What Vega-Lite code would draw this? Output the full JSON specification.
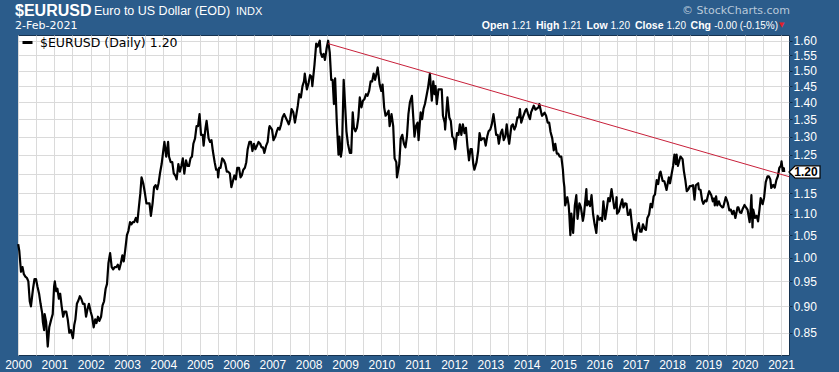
{
  "$schema": "https://vega.github.io/schema/vega-lite/v6.json",
  "width": 771,
  "height": 320,
  "autosize": {"type": "none"},
  "padding": {"left": 18, "top": 35, "right": 50, "bottom": 17},
  "background": "#2b5c8b",
  "title": {
    "text": "$EURUSD",
    "subtitle": "2-Feb-2021",
    "anchor": "start",
    "frame": "group",
    "dx": -3,
    "dy": 30,
    "offset": 4,
    "color": "white",
    "font": "Liberation Sans",
    "fontSize": 16,
    "fontWeight": "bold",
    "subtitleColor": "white",
    "subtitleFont": "DejaVu Sans",
    "subtitleFontSize": 11,
    "subtitlePadding": 1
  },
  "config": {
    "view": {"fill": "white", "stroke": "#16324f", "strokeWidth": 1},
    "font": "Liberation Sans"
  },
  "layer": [
    {
      "data": {"values": [
        {"date":"2000-01-03","price":1.030},{"date":"2000-01-14","price":1.015},{"date":"2000-01-31","price":0.970},{"date":"2000-02-15","price":0.980},{"date":"2000-02-29","price":0.965},{"date":"2000-03-15","price":0.960},{"date":"2000-03-31","price":0.957},{"date":"2000-04-14","price":0.950},{"date":"2000-04-28","price":0.910},{"date":"2000-05-10","price":0.900},{"date":"2000-05-31","price":0.935},{"date":"2000-06-15","price":0.955},{"date":"2000-06-30","price":0.955},{"date":"2000-07-14","price":0.940},{"date":"2000-07-31","price":0.925},{"date":"2000-08-15","price":0.905},{"date":"2000-08-31","price":0.887},{"date":"2000-09-07","price":0.870},{"date":"2000-09-20","price":0.855},{"date":"2000-09-25","price":0.885},{"date":"2000-10-10","price":0.870},{"date":"2000-10-26","price":0.825},{"date":"2000-11-10","price":0.860},{"date":"2000-11-30","price":0.875},{"date":"2000-12-15","price":0.885},{"date":"2000-12-29","price":0.940},
        {"date":"2001-01-05","price":0.950},{"date":"2001-01-19","price":0.930},{"date":"2001-01-31","price":0.935},{"date":"2001-02-15","price":0.915},{"date":"2001-02-28","price":0.925},{"date":"2001-03-15","price":0.900},{"date":"2001-03-30","price":0.880},{"date":"2001-04-13","price":0.890},{"date":"2001-04-30","price":0.890},{"date":"2001-05-15","price":0.875},{"date":"2001-05-31","price":0.850},{"date":"2001-06-15","price":0.855},{"date":"2001-07-06","price":0.840},{"date":"2001-07-20","price":0.865},{"date":"2001-07-31","price":0.875},{"date":"2001-08-15","price":0.905},{"date":"2001-08-31","price":0.912},{"date":"2001-09-14","price":0.920},{"date":"2001-09-28","price":0.915},{"date":"2001-10-15","price":0.905},{"date":"2001-10-31","price":0.905},{"date":"2001-11-15","price":0.880},{"date":"2001-11-30","price":0.895},{"date":"2001-12-14","price":0.905},{"date":"2001-12-31","price":0.890},
        {"date":"2002-01-15","price":0.880},{"date":"2002-01-31","price":0.860},{"date":"2002-02-15","price":0.875},{"date":"2002-02-28","price":0.868},{"date":"2002-03-15","price":0.880},{"date":"2002-03-29","price":0.872},{"date":"2002-04-15","price":0.880},{"date":"2002-04-30","price":0.902},{"date":"2002-05-15","price":0.910},{"date":"2002-05-31","price":0.935},{"date":"2002-06-14","price":0.945},{"date":"2002-06-28","price":0.988},{"date":"2002-07-15","price":1.010},{"date":"2002-07-31","price":0.980},{"date":"2002-08-15","price":0.975},{"date":"2002-08-30","price":0.980},{"date":"2002-09-16","price":0.980},{"date":"2002-09-30","price":0.985},{"date":"2002-10-15","price":0.975},{"date":"2002-10-31","price":0.988},{"date":"2002-11-15","price":1.005},{"date":"2002-11-29","price":0.992},{"date":"2002-12-13","price":1.015},{"date":"2002-12-31","price":1.050},
        {"date":"2003-01-15","price":1.060},{"date":"2003-01-31","price":1.080},{"date":"2003-02-14","price":1.075},{"date":"2003-02-28","price":1.080},{"date":"2003-03-14","price":1.080},{"date":"2003-03-31","price":1.090},{"date":"2003-04-15","price":1.080},{"date":"2003-04-30","price":1.115},{"date":"2003-05-15","price":1.150},{"date":"2003-05-27","price":1.190},{"date":"2003-06-13","price":1.175},{"date":"2003-06-30","price":1.150},{"date":"2003-07-15","price":1.125},{"date":"2003-07-31","price":1.125},{"date":"2003-08-15","price":1.125},{"date":"2003-08-29","price":1.095},{"date":"2003-09-15","price":1.125},{"date":"2003-09-30","price":1.165},{"date":"2003-10-15","price":1.170},{"date":"2003-10-31","price":1.160},{"date":"2003-11-14","price":1.175},{"date":"2003-11-28","price":1.200},{"date":"2003-12-15","price":1.225},{"date":"2003-12-31","price":1.260},
        {"date":"2004-01-12","price":1.285},{"date":"2004-01-30","price":1.245},{"date":"2004-02-18","price":1.285},{"date":"2004-02-27","price":1.245},{"date":"2004-03-15","price":1.230},{"date":"2004-03-31","price":1.230},{"date":"2004-04-15","price":1.200},{"date":"2004-04-30","price":1.195},{"date":"2004-05-14","price":1.185},{"date":"2004-05-31","price":1.225},{"date":"2004-06-15","price":1.205},{"date":"2004-06-30","price":1.220},{"date":"2004-07-15","price":1.240},{"date":"2004-07-30","price":1.200},{"date":"2004-08-16","price":1.235},{"date":"2004-08-31","price":1.220},{"date":"2004-09-15","price":1.220},{"date":"2004-09-30","price":1.240},{"date":"2004-10-15","price":1.245},{"date":"2004-10-29","price":1.280},{"date":"2004-11-15","price":1.295},{"date":"2004-11-30","price":1.330},{"date":"2004-12-15","price":1.330},{"date":"2004-12-30","price":1.365},
        {"date":"2005-01-14","price":1.305},{"date":"2005-01-31","price":1.305},{"date":"2005-02-09","price":1.275},{"date":"2005-02-28","price":1.325},{"date":"2005-03-11","price":1.345},{"date":"2005-03-31","price":1.295},{"date":"2005-04-15","price":1.285},{"date":"2005-04-29","price":1.290},{"date":"2005-05-13","price":1.260},{"date":"2005-05-31","price":1.230},{"date":"2005-06-15","price":1.210},{"date":"2005-06-30","price":1.210},{"date":"2005-07-05","price":1.190},{"date":"2005-07-15","price":1.215},{"date":"2005-07-29","price":1.215},{"date":"2005-08-15","price":1.240},{"date":"2005-08-31","price":1.235},{"date":"2005-09-15","price":1.225},{"date":"2005-09-30","price":1.205},{"date":"2005-10-14","price":1.205},{"date":"2005-10-31","price":1.200},{"date":"2005-11-15","price":1.165},{"date":"2005-11-30","price":1.180},{"date":"2005-12-15","price":1.195},{"date":"2005-12-30","price":1.185},
        {"date":"2006-01-13","price":1.215},{"date":"2006-01-31","price":1.215},{"date":"2006-02-15","price":1.190},{"date":"2006-02-28","price":1.195},{"date":"2006-03-15","price":1.210},{"date":"2006-03-31","price":1.215},{"date":"2006-04-14","price":1.230},{"date":"2006-04-28","price":1.265},{"date":"2006-05-15","price":1.285},{"date":"2006-05-31","price":1.285},{"date":"2006-06-15","price":1.260},{"date":"2006-06-30","price":1.280},{"date":"2006-07-14","price":1.265},{"date":"2006-07-31","price":1.275},{"date":"2006-08-15","price":1.285},{"date":"2006-08-31","price":1.280},{"date":"2006-09-15","price":1.270},{"date":"2006-09-29","price":1.270},{"date":"2006-10-13","price":1.255},{"date":"2006-10-31","price":1.275},{"date":"2006-11-15","price":1.285},{"date":"2006-11-30","price":1.325},{"date":"2006-12-05","price":1.330},{"date":"2006-12-29","price":1.320},
        {"date":"2007-01-12","price":1.290},{"date":"2007-01-31","price":1.300},{"date":"2007-02-15","price":1.315},{"date":"2007-02-28","price":1.325},{"date":"2007-03-15","price":1.320},{"date":"2007-03-30","price":1.335},{"date":"2007-04-13","price":1.355},{"date":"2007-04-30","price":1.365},{"date":"2007-05-15","price":1.355},{"date":"2007-05-31","price":1.345},{"date":"2007-06-15","price":1.335},{"date":"2007-06-29","price":1.350},{"date":"2007-07-13","price":1.380},{"date":"2007-07-31","price":1.370},{"date":"2007-08-16","price":1.340},{"date":"2007-08-31","price":1.365},{"date":"2007-09-14","price":1.390},{"date":"2007-09-28","price":1.425},{"date":"2007-10-15","price":1.415},{"date":"2007-10-31","price":1.450},{"date":"2007-11-15","price":1.465},{"date":"2007-11-23","price":1.490},{"date":"2007-12-14","price":1.440},{"date":"2007-12-31","price":1.460},
        {"date":"2008-01-15","price":1.485},{"date":"2008-01-31","price":1.480},{"date":"2008-02-07","price":1.450},{"date":"2008-02-29","price":1.520},{"date":"2008-03-17","price":1.590},{"date":"2008-03-31","price":1.580},{"date":"2008-04-22","price":1.600},{"date":"2008-04-30","price":1.560},{"date":"2008-05-15","price":1.545},{"date":"2008-05-30","price":1.555},{"date":"2008-06-13","price":1.535},{"date":"2008-06-30","price":1.575},{"date":"2008-07-15","price":1.600},{"date":"2008-07-31","price":1.560},{"date":"2008-08-15","price":1.470},{"date":"2008-08-29","price":1.470},{"date":"2008-09-11","price":1.395},{"date":"2008-09-23","price":1.475},{"date":"2008-10-10","price":1.340},{"date":"2008-10-27","price":1.250},{"date":"2008-11-05","price":1.300},{"date":"2008-11-20","price":1.245},{"date":"2008-12-01","price":1.265},{"date":"2008-12-18","price":1.470},{"date":"2008-12-31","price":1.400},
        {"date":"2009-01-15","price":1.315},{"date":"2009-01-30","price":1.280},{"date":"2009-02-18","price":1.255},{"date":"2009-03-04","price":1.255},{"date":"2009-03-19","price":1.370},{"date":"2009-03-31","price":1.325},{"date":"2009-04-15","price":1.315},{"date":"2009-04-30","price":1.325},{"date":"2009-05-15","price":1.355},{"date":"2009-05-29","price":1.415},{"date":"2009-06-15","price":1.385},{"date":"2009-06-30","price":1.405},{"date":"2009-07-15","price":1.410},{"date":"2009-07-31","price":1.425},{"date":"2009-08-14","price":1.420},{"date":"2009-08-31","price":1.435},{"date":"2009-09-15","price":1.465},{"date":"2009-09-30","price":1.465},{"date":"2009-10-15","price":1.490},{"date":"2009-10-30","price":1.470},{"date":"2009-11-13","price":1.490},{"date":"2009-11-25","price":1.510},{"date":"2009-12-15","price":1.455},{"date":"2009-12-31","price":1.435},
        {"date":"2010-01-13","price":1.455},{"date":"2010-01-29","price":1.385},{"date":"2010-02-12","price":1.360},{"date":"2010-02-26","price":1.365},{"date":"2010-03-15","price":1.375},{"date":"2010-03-25","price":1.330},{"date":"2010-04-13","price":1.365},{"date":"2010-04-30","price":1.330},{"date":"2010-05-14","price":1.240},{"date":"2010-05-31","price":1.230},{"date":"2010-06-07","price":1.190},{"date":"2010-06-30","price":1.225},{"date":"2010-07-15","price":1.295},{"date":"2010-07-30","price":1.305},{"date":"2010-08-16","price":1.280},{"date":"2010-08-31","price":1.270},{"date":"2010-09-15","price":1.300},{"date":"2010-09-30","price":1.365},{"date":"2010-10-15","price":1.400},{"date":"2010-11-04","price":1.420},{"date":"2010-11-30","price":1.300},{"date":"2010-12-15","price":1.330},{"date":"2010-12-31","price":1.340},
        {"date":"2011-01-10","price":1.290},{"date":"2011-01-31","price":1.370},{"date":"2011-02-15","price":1.350},{"date":"2011-02-28","price":1.380},{"date":"2011-03-15","price":1.395},{"date":"2011-03-31","price":1.420},{"date":"2011-04-15","price":1.445},{"date":"2011-05-04","price":1.490},{"date":"2011-05-23","price":1.405},{"date":"2011-06-07","price":1.465},{"date":"2011-06-20","price":1.425},{"date":"2011-06-30","price":1.450},{"date":"2011-07-12","price":1.395},{"date":"2011-07-29","price":1.440},{"date":"2011-08-15","price":1.440},{"date":"2011-08-31","price":1.440},{"date":"2011-09-12","price":1.360},{"date":"2011-09-30","price":1.340},{"date":"2011-10-04","price":1.320},{"date":"2011-10-27","price":1.415},{"date":"2011-11-15","price":1.355},{"date":"2011-11-30","price":1.345},{"date":"2011-12-15","price":1.300},{"date":"2011-12-30","price":1.295},
        {"date":"2012-01-13","price":1.265},{"date":"2012-01-31","price":1.310},{"date":"2012-02-15","price":1.305},{"date":"2012-02-29","price":1.335},{"date":"2012-03-15","price":1.305},{"date":"2012-03-30","price":1.335},{"date":"2012-04-16","price":1.310},{"date":"2012-04-30","price":1.325},{"date":"2012-05-15","price":1.275},{"date":"2012-05-31","price":1.235},{"date":"2012-06-15","price":1.265},{"date":"2012-06-29","price":1.265},{"date":"2012-07-13","price":1.225},{"date":"2012-07-24","price":1.210},{"date":"2012-08-15","price":1.230},{"date":"2012-08-31","price":1.260},{"date":"2012-09-14","price":1.310},{"date":"2012-09-28","price":1.290},{"date":"2012-10-15","price":1.295},{"date":"2012-10-31","price":1.295},{"date":"2012-11-15","price":1.275},{"date":"2012-11-30","price":1.300},{"date":"2012-12-14","price":1.315},{"date":"2012-12-31","price":1.320},
        {"date":"2013-01-15","price":1.335},{"date":"2013-02-01","price":1.365},{"date":"2013-02-15","price":1.335},{"date":"2013-02-28","price":1.305},{"date":"2013-03-15","price":1.305},{"date":"2013-03-27","price":1.280},{"date":"2013-04-15","price":1.310},{"date":"2013-04-30","price":1.320},{"date":"2013-05-15","price":1.290},{"date":"2013-05-31","price":1.300},{"date":"2013-06-14","price":1.335},{"date":"2013-06-28","price":1.300},{"date":"2013-07-09","price":1.280},{"date":"2013-07-31","price":1.330},{"date":"2013-08-15","price":1.335},{"date":"2013-08-30","price":1.320},{"date":"2013-09-13","price":1.330},{"date":"2013-09-30","price":1.355},{"date":"2013-10-15","price":1.355},{"date":"2013-10-25","price":1.380},{"date":"2013-11-07","price":1.340},{"date":"2013-11-29","price":1.360},{"date":"2013-12-18","price":1.375},{"date":"2013-12-31","price":1.380},
        {"date":"2014-01-15","price":1.365},{"date":"2014-02-03","price":1.350},{"date":"2014-02-14","price":1.370},{"date":"2014-02-28","price":1.380},{"date":"2014-03-13","price":1.390},{"date":"2014-03-31","price":1.378},{"date":"2014-04-15","price":1.382},{"date":"2014-04-30","price":1.385},{"date":"2014-05-08","price":1.395},{"date":"2014-05-30","price":1.365},{"date":"2014-06-05","price":1.360},{"date":"2014-06-30","price":1.369},{"date":"2014-07-15","price":1.360},{"date":"2014-07-31","price":1.340},{"date":"2014-08-15","price":1.340},{"date":"2014-08-29","price":1.313},{"date":"2014-09-15","price":1.295},{"date":"2014-09-30","price":1.262},{"date":"2014-10-15","price":1.280},{"date":"2014-10-31","price":1.253},{"date":"2014-11-14","price":1.253},{"date":"2014-11-28","price":1.245},{"date":"2014-12-15","price":1.245},{"date":"2014-12-31","price":1.210},
        {"date":"2015-01-08","price":1.180},{"date":"2015-01-15","price":1.165},{"date":"2015-01-23","price":1.120},{"date":"2015-02-13","price":1.140},{"date":"2015-02-27","price":1.120},{"date":"2015-03-05","price":1.100},{"date":"2015-03-16","price":1.050},{"date":"2015-03-26","price":1.100},{"date":"2015-04-13","price":1.055},{"date":"2015-04-30","price":1.120},{"date":"2015-05-15","price":1.145},{"date":"2015-05-27","price":1.088},{"date":"2015-06-15","price":1.125},{"date":"2015-06-30","price":1.115},{"date":"2015-07-20","price":1.083},{"date":"2015-07-31","price":1.098},{"date":"2015-08-24","price":1.160},{"date":"2015-08-31","price":1.120},{"date":"2015-09-15","price":1.130},{"date":"2015-09-30","price":1.118},{"date":"2015-10-15","price":1.145},{"date":"2015-10-30","price":1.100},{"date":"2015-11-15","price":1.075},{"date":"2015-12-02","price":1.055},{"date":"2015-12-15","price":1.095},{"date":"2015-12-31","price":1.086},
        {"date":"2016-01-15","price":1.090},{"date":"2016-01-29","price":1.083},{"date":"2016-02-11","price":1.130},{"date":"2016-02-29","price":1.087},{"date":"2016-03-15","price":1.110},{"date":"2016-03-31","price":1.138},{"date":"2016-04-15","price":1.130},{"date":"2016-05-03","price":1.160},{"date":"2016-05-31","price":1.113},{"date":"2016-06-15","price":1.120},{"date":"2016-06-23","price":1.140},{"date":"2016-06-27","price":1.100},{"date":"2016-07-15","price":1.105},{"date":"2016-07-29","price":1.117},{"date":"2016-08-18","price":1.135},{"date":"2016-08-31","price":1.115},{"date":"2016-09-15","price":1.125},{"date":"2016-09-30","price":1.124},{"date":"2016-10-14","price":1.097},{"date":"2016-10-31","price":1.098},{"date":"2016-11-08","price":1.110},{"date":"2016-11-30","price":1.060},{"date":"2016-12-15","price":1.040},{"date":"2016-12-30","price":1.052},
        {"date":"2017-01-03","price":1.038},{"date":"2017-01-13","price":1.063},{"date":"2017-02-01","price":1.078},{"date":"2017-02-14","price":1.058},{"date":"2017-02-28","price":1.058},{"date":"2017-03-15","price":1.075},{"date":"2017-03-31","price":1.065},{"date":"2017-04-14","price":1.062},{"date":"2017-04-28","price":1.090},{"date":"2017-05-15","price":1.098},{"date":"2017-05-31","price":1.124},{"date":"2017-06-15","price":1.115},{"date":"2017-06-30","price":1.142},{"date":"2017-07-14","price":1.147},{"date":"2017-07-31","price":1.183},{"date":"2017-08-15","price":1.173},{"date":"2017-08-29","price":1.200},{"date":"2017-09-08","price":1.205},{"date":"2017-09-29","price":1.181},{"date":"2017-10-16","price":1.180},{"date":"2017-10-31","price":1.165},{"date":"2017-11-07","price":1.158},{"date":"2017-11-30","price":1.190},{"date":"2017-12-12","price":1.175},{"date":"2017-12-29","price":1.200},
        {"date":"2018-01-12","price":1.220},{"date":"2018-01-25","price":1.250},{"date":"2018-02-09","price":1.225},{"date":"2018-02-16","price":1.250},{"date":"2018-03-01","price":1.220},{"date":"2018-03-27","price":1.245},{"date":"2018-04-17","price":1.238},{"date":"2018-04-30","price":1.207},{"date":"2018-05-15","price":1.183},{"date":"2018-05-29","price":1.155},{"date":"2018-06-15","price":1.160},{"date":"2018-06-29","price":1.168},{"date":"2018-07-13","price":1.168},{"date":"2018-07-31","price":1.170},{"date":"2018-08-15","price":1.134},{"date":"2018-08-28","price":1.170},{"date":"2018-09-21","price":1.175},{"date":"2018-09-28","price":1.160},{"date":"2018-10-15","price":1.158},{"date":"2018-10-31","price":1.132},{"date":"2018-11-12","price":1.124},{"date":"2018-11-30","price":1.132},{"date":"2018-12-14","price":1.130},{"date":"2018-12-31","price":1.147},
        {"date":"2019-01-10","price":1.155},{"date":"2019-01-31","price":1.145},{"date":"2019-02-15","price":1.130},{"date":"2019-02-28","price":1.137},{"date":"2019-03-07","price":1.120},{"date":"2019-03-20","price":1.142},{"date":"2019-04-01","price":1.120},{"date":"2019-04-17","price":1.130},{"date":"2019-04-30","price":1.121},{"date":"2019-05-23","price":1.115},{"date":"2019-05-31","price":1.116},{"date":"2019-06-25","price":1.140},{"date":"2019-07-15","price":1.127},{"date":"2019-07-31","price":1.108},{"date":"2019-08-15","price":1.110},{"date":"2019-08-30","price":1.099},{"date":"2019-09-13","price":1.107},{"date":"2019-09-30","price":1.090},{"date":"2019-10-21","price":1.115},{"date":"2019-10-31","price":1.115},{"date":"2019-11-15","price":1.103},{"date":"2019-11-29","price":1.102},{"date":"2019-12-13","price":1.112},{"date":"2019-12-31","price":1.121},
        {"date":"2020-01-15","price":1.115},{"date":"2020-01-31","price":1.109},{"date":"2020-02-20","price":1.080},{"date":"2020-02-28","price":1.100},{"date":"2020-03-09","price":1.145},{"date":"2020-03-20","price":1.068},{"date":"2020-03-27","price":1.110},{"date":"2020-04-15","price":1.090},{"date":"2020-04-30","price":1.095},{"date":"2020-05-15","price":1.082},{"date":"2020-05-29","price":1.110},{"date":"2020-06-10","price":1.138},{"date":"2020-06-30","price":1.123},{"date":"2020-07-15","price":1.140},{"date":"2020-07-31","price":1.178},{"date":"2020-08-18","price":1.193},{"date":"2020-08-31","price":1.193},{"date":"2020-09-15","price":1.185},{"date":"2020-09-25","price":1.163},{"date":"2020-10-15","price":1.171},{"date":"2020-10-30","price":1.164},{"date":"2020-11-15","price":1.183},{"date":"2020-11-30","price":1.193},{"date":"2020-12-15","price":1.215},{"date":"2020-12-31","price":1.221},
        {"date":"2021-01-06","price":1.232},{"date":"2021-01-18","price":1.207},{"date":"2021-01-29","price":1.214},{"date":"2021-02-02","price":1.204}
      ]},
      "mark": {"type": "line", "strokeWidth": 2.2, "strokeJoin": "round"},
      "encoding": {
        "x": {
          "field": "date", "type": "temporal",
          "scale": {"type": "utc", "domain": [{"year": 2000, "month": 1, "date": 1, "utc": true}, {"year": 2021, "month": 3, "date": 22, "utc": true}], "nice": false},
          "axis": {
            "orient": "bottom", "title": null,
            "tickCount": {"interval": "month", "step": 6},
            "labelExpr": "utcmonth(datum.value) == 0 ? utcFormat(datum.value, '%Y') : ''",
            "grid": true, "gridColor": "#dadada", "gridWidth": 1,
            "ticks": false, "domain": false,
            "labelColor": "white", "labelFont": "Liberation Sans", "labelFontSize": 12,
            "labelPadding": 4, "labelOverlap": false, "labelFlush": false, "labelBound": false, "labelBaseline": "top"
          }
        },
        "y": {
          "field": "price", "type": "quantitative",
          "scale": {"type": "log", "domain": [0.81, 1.62], "nice": false, "zero": false},
          "axis": {
            "orient": "right", "title": null,
            "values": [0.85, 0.9, 0.95, 1.0, 1.05, 1.1, 1.15, 1.2, 1.25, 1.3, 1.35, 1.4, 1.45, 1.5, 1.55, 1.6],
            "labelExpr": "abs(datum.value - 1.2) < 0.001 ? '' : format(datum.value, '.2f')",
            "grid": true, "gridColor": "#dadada", "gridWidth": 1,
            "ticks": true, "tickSize": 3, "tickColor": "#0f2a44",
            "domain": false,
            "labelColor": "white", "labelFont": "Liberation Sans", "labelFontSize": 12,
            "labelPadding": 1, "labelFlush": false, "labelOverlap": false
          }
        },
        "color": {
          "datum": "$EURUSD (Daily) 1.20",
          "scale": {"range": ["#000000"]},
          "legend": {
            "orient": "none", "legendX": 3, "legendY": 1, "title": null, "padding": 0,
            "symbolType": "stroke", "symbolStrokeWidth": 3, "symbolSize": 100,
            "labelFont": "DejaVu Sans", "labelFontSize": 12.5, "labelColor": "black", "labelOffset": 6
          }
        }
      }
    },
    {
      "data": {"values": [{"date": "2008-07-15", "price": 1.59}, {"date": "2021-03-22", "price": 1.192}]},
      "mark": {"type": "line", "color": "#c8203a", "strokeWidth": 1},
      "encoding": {
        "x": {"field": "date", "type": "temporal"},
        "y": {"field": "price", "type": "quantitative"}
      }
    },
    {
      "data": {"values": [{}]},
      "mark": {"type": "point", "shape": "M 0 0 L 0.4 -0.4 L 2 -0.4 L 2 0.4 L 0.4 0.4 Z", "filled": true, "fill": "white", "stroke": "black", "strokeWidth": 1.2, "size": 961, "opacity": 1},
      "encoding": {
        "x": {"datum": {"year": 2021, "month": 3, "date": 22, "utc": true}, "type": "temporal"},
        "y": {"datum": 1.204, "type": "quantitative"}
      }
    },
    {
      "data": {"values": [{}]},
      "mark": {"type": "text", "text": "1.20", "font": "Liberation Sans", "fontSize": 12, "fontWeight": "bold", "color": "black", "align": "center", "baseline": "middle", "dx": 17},
      "encoding": {
        "x": {"datum": {"year": 2021, "month": 3, "date": 22, "utc": true}, "type": "temporal"},
        "y": {"datum": 1.204, "type": "quantitative"}
      }
    },
    {
      "data": {"values": [{}]},
      "layer": [
        {"mark": {"type": "text", "text": "Euro to US Dollar (EOD)", "font": "Liberation Sans", "fontSize": 12.5, "color": "white", "align": "left", "baseline": "alphabetic", "dx": 76, "dy": -20}},
        {"mark": {"type": "text", "text": "INDX", "font": "Liberation Sans", "fontSize": 11, "color": "white", "align": "left", "baseline": "alphabetic", "dx": 218, "dy": -20}}
      ],
      "encoding": {
        "x": {"datum": {"year": 2000, "month": 1, "date": 1, "utc": true}, "type": "temporal"},
        "y": {"datum": 1.62, "type": "quantitative"}
      }
    },
    {
      "data": {"values": [{}]},
      "layer": [
        {"mark": {"type": "text", "text": "© StockCharts.com", "font": "DejaVu Sans", "fontSize": 11, "color": "#b9c9da", "align": "right", "baseline": "alphabetic", "dx": 1, "dy": -21}},
        {"mark": {"type": "text", "text": "(-0.15%)", "font": "Liberation Sans", "fontSize": 10, "color": "white", "align": "right", "baseline": "alphabetic", "dx": -11, "dy": -6}},
        {"mark": {"type": "text", "text": "-0.00", "font": "Liberation Sans", "fontSize": 10, "color": "white", "align": "right", "baseline": "alphabetic", "dx": -52, "dy": -6}},
        {"mark": {"type": "text", "text": "Chg", "font": "Liberation Sans", "fontSize": 10.5, "fontWeight": "bold", "color": "white", "align": "right", "baseline": "alphabetic", "dx": -78, "dy": -6}},
        {"mark": {"type": "text", "text": "1.20", "font": "Liberation Sans", "fontSize": 10, "color": "white", "align": "right", "baseline": "alphabetic", "dx": -103, "dy": -6}},
        {"mark": {"type": "text", "text": "Close", "font": "Liberation Sans", "fontSize": 10.5, "fontWeight": "bold", "color": "white", "align": "right", "baseline": "alphabetic", "dx": -125.5, "dy": -6}},
        {"mark": {"type": "text", "text": "1.20", "font": "Liberation Sans", "fontSize": 10, "color": "white", "align": "right", "baseline": "alphabetic", "dx": -159, "dy": -6}},
        {"mark": {"type": "text", "text": "Low", "font": "Liberation Sans", "fontSize": 10.5, "fontWeight": "bold", "color": "white", "align": "right", "baseline": "alphabetic", "dx": -181.4, "dy": -6}},
        {"mark": {"type": "text", "text": "1.21", "font": "Liberation Sans", "fontSize": 10, "color": "white", "align": "right", "baseline": "alphabetic", "dx": -207.4, "dy": -6}},
        {"mark": {"type": "text", "text": "High", "font": "Liberation Sans", "fontSize": 10.5, "fontWeight": "bold", "color": "white", "align": "right", "baseline": "alphabetic", "dx": -229.7, "dy": -6}},
        {"mark": {"type": "text", "text": "1.21", "font": "Liberation Sans", "fontSize": 10, "color": "white", "align": "right", "baseline": "alphabetic", "dx": -258, "dy": -6}},
        {"mark": {"type": "text", "text": "Open", "font": "Liberation Sans", "fontSize": 10.5, "fontWeight": "bold", "color": "white", "align": "right", "baseline": "alphabetic", "dx": -280.3, "dy": -6}},
        {"mark": {"type": "text", "text": "▼", "font": "DejaVu Sans", "fontSize": 7, "color": "#e0202a", "align": "left", "baseline": "alphabetic", "dx": -10, "dy": -8}}
      ],
      "encoding": {
        "x": {"datum": {"year": 2021, "month": 3, "date": 22, "utc": true}, "type": "temporal"},
        "y": {"datum": 1.62, "type": "quantitative"}
      }
    }
  ]
}
